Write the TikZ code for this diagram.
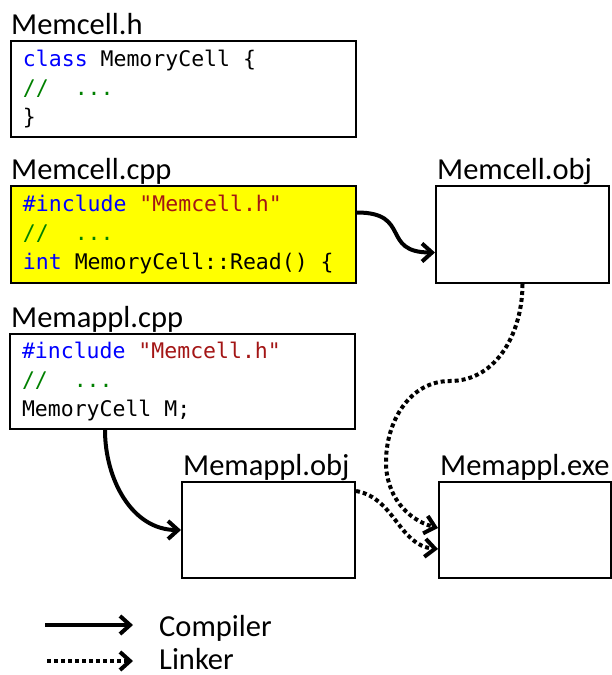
\documentclass[tikz,border=0pt]{standalone}
\usepackage{fontspec}
\setmainfont{Carlito}
\newfontfamily\codefont{DejaVu Sans Mono}
\usetikzlibrary{arrows.meta,positioning}

\definecolor{kwblue}{RGB}{0,0,255}
\definecolor{strred}{RGB}{163,21,21}
\definecolor{cmtgreen}{RGB}{0,128,0}
\definecolor{cppyellow}{RGB}{255,255,0}

\tikzset{
	codebox/.style={draw, line width=2pt, anchor=north west, inner xsep=12pt, inner ysep=0pt,
		minimum width=345pt, minimum height=96pt, text width=321pt, align=left,
		font=\codefont\fontsize{21.5}{29}\selectfont,
		execute at begin node={\spaceskip=0.6021em\xspaceskip=0.6021em\relax}},
	objbox/.style={draw, line width=2pt, anchor=north west, minimum width=173pt, minimum height=96pt},
	lbl/.style={anchor=base west, inner sep=0pt, font=\fontsize{30.5}{36}\selectfont},
	compile/.style={line width=4pt, -{Straight Barb[length=10pt,width=18pt]}},
	link/.style={compile, dash pattern=on 4pt off 3pt},
}

\begin{document}
\begin{tikzpicture}[x=1pt,y=-1pt]
	\useasboundingbox (0,0) rectangle (612,675);
	
	% source files
	\node[codebox] (hbox) at (10,40) {\textcolor{kwblue}{class} MemoryCell \{\\
		\textcolor{cmtgreen}{//\ \ ...}\\
		\}};
	\node[codebox, fill=cppyellow, minimum height=97pt] (cppbox) at (10,185) {\textcolor{kwblue}{\#include} \textcolor{strred}{"Memcell.h"}\\
		\textcolor{cmtgreen}{//\ \ ...}\\
		\textcolor{kwblue}{int} MemoryCell::Read() \{};
	\node[codebox, minimum height=95pt] (applbox) at (9,333) {\textcolor{kwblue}{\#include} \textcolor{strred}{"Memcell.h"}\\
		\textcolor{cmtgreen}{//\ \ ...}\\
		MemoryCell M;};
	
	% object and executable files
	\node[objbox, minimum height=97pt] (cellobj) at (435,185) {};
	\node[objbox] (applobj) at (181,481) {};
	\node[objbox, minimum width=172pt] (applexe) at (438,481) {};
	
	% file names
	\node[lbl] (hlbl) at ([xshift=1pt,yshift=6pt]hbox.north west) {Memcell.h};
	\node[lbl] (cpplbl) at ([xshift=1pt,yshift=6pt]cppbox.north west) {Memcell.cpp};
	\node[lbl] (appllbl) at ([xshift=2pt,yshift=6pt]applbox.north west) {Memappl.cpp};
	\node[lbl] (cellobjlbl) at ([xshift=2pt,yshift=6pt]cellobj.north west) {Memcell.obj};
	\node[lbl] (applobjlbl) at ([xshift=2pt,yshift=6pt]applobj.north west) {Memappl.obj};
	\node[lbl] (applexelbl) at ([xshift=2pt,yshift=6pt]applexe.north west) {Memappl.exe};
	
	% compiler
	\draw[compile] ([yshift=22pt]cppbox.east) to[out=0,in=180,looseness=1.6] ([yshift=-18pt]cellobj.west);
	\draw[compile] ([xshift=96pt]applbox.south west) to[out=-90,in=180] (applobj.west);
	
	% linker
	\coordinate (bendA) at (450,381);
	\coordinate (bendB) at (386,462);
	\draw[link] (cellobj.south) to[out=-90,in=0] (bendA) to[out=180,in=90] (bendB)
		to[out=-90,in=165] ([yshift=2pt]applexe.west);
	\draw[link] ([yshift=39pt]applobj.east) to[out=-10,in=175] ([yshift=-19pt]applexe.west);
	
	% legend
	\coordinate (compA) at (45,625);
	\coordinate (compB) at (133,625);
	\coordinate (linkA) at (47,661);
	\coordinate (linkB) at (133,661);
	\draw[compile] (compA) -- (compB);
	\draw[link] (linkA) -- (linkB);
	\node[lbl] (complbl) at (159,636) {Compiler};
	\node[lbl] (linklbl) at (159,669) {Linker};
	
\end{tikzpicture}
\end{document}
